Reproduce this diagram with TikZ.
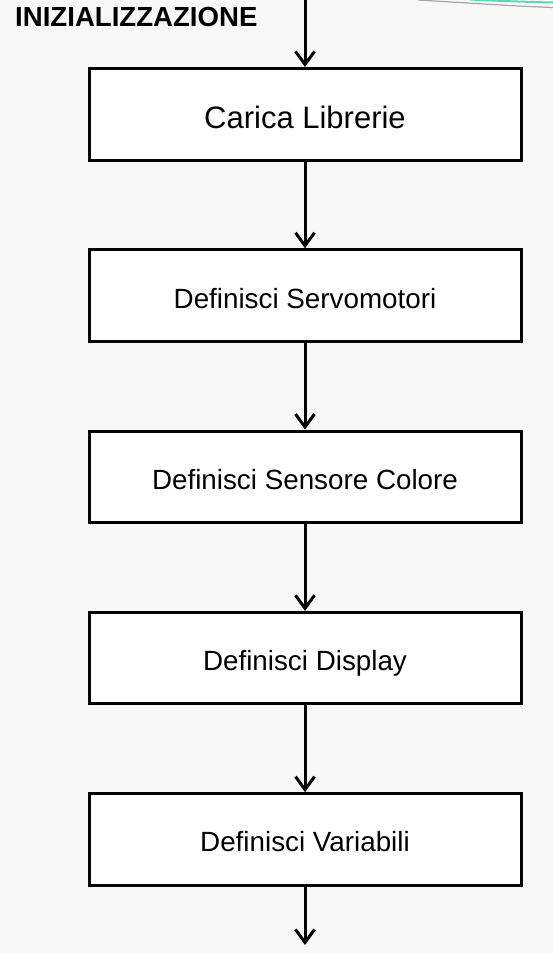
\documentclass[tikz,border=0pt]{standalone}
\usepackage{fontspec}
\setmainfont{Liberation Sans}
\usetikzlibrary{arrows.meta}
\definecolor{bg}{HTML}{F8F8F8}
\definecolor{teal}{HTML}{5ED6B8}
\begin{document}
\begin{tikzpicture}[x=1pt,y=-1pt,
  box/.style={draw=black, line width=3pt, fill=white, minimum width=432pt,
    minimum height=91.5pt, inner sep=0pt, text height=25pt, text depth=0pt,
    font=\fontsize{27.8}{32}\selectfont},
  flow/.style={line width=3pt, -{Straight Barb[length=13pt,width=19pt]}}]
\fill[bg] (0,0) rectangle (553,953);
\useasboundingbox (0,0) rectangle (553,953);
% decorative curves, top right
\draw[gray!70, line width=1.2pt] (418,0) .. controls (470,3) and (510,6) .. (553,7.5);
\draw[teal, line width=2pt] (470,-0.5) .. controls (500,1) and (530,2) .. (553,2.5);
% title
\node[anchor=base west, inner sep=0pt, font=\bfseries\fontsize{27.6}{30}\selectfont] (title) at (15,27) {INIZIALIZZAZIONE};
% boxes
\node[box, font=\fontsize{31}{34}\selectfont, text height=28pt] (b1) at (305,114.25) {Carica Librerie};
\node[box] (b2) at (305,295.5) {Definisci Servomotori};
\node[box] (b3) at (305,476.8) {Definisci Sensore Colore};
\node[box] (b4) at (305,658.1) {Definisci Display};
\node[box] (b5) at (305,839.4) {Definisci Variabili};
\coordinate (start) at (305,0);
\coordinate (end) at (305,945);
\draw[flow] (start) -- (b1.north);
\draw[flow] (b1.south) -- (b2.north);
\draw[flow] (b2.south) -- (b3.north);
\draw[flow] (b3.south) -- (b4.north);
\draw[flow] (b4.south) -- (b5.north);
\draw[flow] (b5.south) -- (end);
\end{tikzpicture}
\end{document}
